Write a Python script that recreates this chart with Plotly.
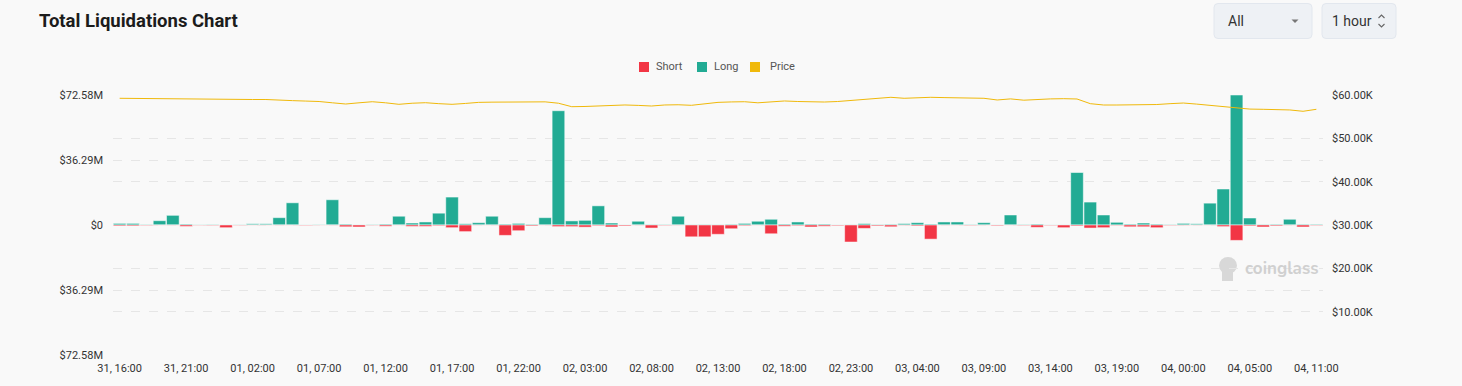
import pandas as pd
import plotly.graph_objects as go

# ---------------- data ----------------
times = list(pd.date_range("2024-07-31 16:00", periods=90, freq="h")) + [pd.Timestamp("2024-08-04 11:00")]
categories = [t.strftime("%d, %H:%M") for t in times]

long_m = [0.9, 0.9, 0.3, 2.4, 5.4, 0.5, 0.2, 0.3, 0.1, 0.2,
          0.7, 0.7, 4.1, 12.4, 0.1, 0.3, 14.1, 0.5, 0.1, 0.3,
          0.5, 4.9, 1.1, 1.7, 6.6, 15.6, 0.7, 1.3, 4.9, 0.5,
          0.9, 0.4, 4.1, 63.8, 2.3, 2.6, 10.7, 1.1, 0.1, 2.1,
          0.3, 0.3, 4.9, 0.2, 0.3, 0.2, 0.4, 0.9, 2.1, 3.2,
          0.5, 1.7, 0.5, 0.5, 0.1, 0.2, 0.8, 0.3, 0.4, 0.8,
          1.3, 0.5, 1.7, 1.7, 0.3, 1.3, 0.1, 5.6, 0.3, 0.5,
          0.1, 0.1, 29.3, 12.8, 5.6, 1.5, 0.5, 1.1, 0.5, 0.3,
          0.9, 0.7, 12.2, 20.1, 72.58, 3.9, 0.3, 0.4, 3.2, 0.4,
          0.4]
short_m = [0.5, 0.5, 0.3, 0.1, 0.1, 0.8, 0.2, 0.3, 1.5, 0.2,
           0.1, 0.1, 0.1, 0.1, 0.3, 0.1, 0.1, 1.0, 1.1, 0.2,
           0.7, 0.1, 0.8, 0.8, 0.4, 1.5, 3.7, 0.1, 0.1, 5.8,
           3.2, 0.5, 0.1, 0.9, 0.9, 1.2, 0.4, 1.1, 0.5, 0.1,
           1.7, 0.3, 0.1, 6.6, 6.6, 5.2, 2.1, 0.4, 0.1, 4.9,
           0.7, 0.4, 1.1, 0.7, 0.4, 9.5, 1.9, 0.5, 1.0, 0.2,
           0.5, 7.9, 0.1, 0.1, 0.3, 0.1, 0.4, 0.1, 0.3, 1.3,
           0.3, 1.5, 0.5, 1.7, 1.5, 0.3, 1.0, 1.0, 1.5, 0.3,
           0.2, 0.1, 0.1, 0.9, 8.6, 0.5, 1.1, 0.5, 0.1, 1.1,
           0.3]
price_k = [59.24, 59.2, 59.15, 59.1, 59.1, 59.05, 59.05, 59.0, 58.96, 58.96,
           58.96, 58.96, 58.9, 58.7, 58.6, 58.5, 58.2, 57.92, 58.2, 58.45,
           58.2, 57.85, 58.1, 58.22, 58.0, 57.85, 58.05, 58.3, 58.35, 58.4,
           58.45, 58.45, 58.42, 58.1, 57.3, 57.35, 57.45, 57.55, 57.7, 57.6,
           57.46, 57.7, 57.75, 57.62, 58.0, 58.3, 58.4, 58.45, 58.2, 58.4,
           58.62, 58.5, 58.4, 58.38, 58.5, 58.75, 59.1, 59.3, 59.47, 59.24,
           59.35, 59.47, 59.4, 59.35, 59.3, 59.24, 58.85, 59.1, 58.8, 59.0,
           59.1, 59.15, 59.08, 58.0, 57.69, 57.69, 57.69, 57.69, 57.8, 58.0,
           58.15, 57.9, 57.6, 57.35, 57.1, 56.75, 56.7, 56.6, 56.55, 56.24,
           56.7]

left_tick_vals = [-72.58, -36.29, 0, 36.29, 72.58]
left_tick_text = ["$72.58M", "$36.29M", "$0", "$36.29M", "$72.58M"]
right_tick_vals = [10, 20, 30, 40, 50, 60]
right_tick_text = ["$10.00K", "$20.00K", "$30.00K", "$40.00K", "$50.00K", "$60.00K"]
x_tick_idx = list(range(0, 90, 5)) + [90]

# ---------------- styling ----------------
W, H = 1462, 386
L, R, T, B = 113, 1323, 95, 355
BG = "#f9f9f9"
RED = "#f23645"
TEAL = "#22ab94"
GOLD = "#f0b90b"
GRID = "#e6e6e6"
FONT = "Roboto"


def xp(px):
    return (px - L) / (R - L)


def yp(py):
    return (B - py) / (B - T)


def rrect(x0, y0, x1, y1, r):
    pts = [
        f"M {xp(x0 + r)},{yp(y0)}",
        f"L {xp(x1 - r)},{yp(y0)}",
        f"Q {xp(x1)},{yp(y0)} {xp(x1)},{yp(y0 + r)}",
        f"L {xp(x1)},{yp(y1 - r)}",
        f"Q {xp(x1)},{yp(y1)} {xp(x1 - r)},{yp(y1)}",
        f"L {xp(x0 + r)},{yp(y1)}",
        f"Q {xp(x0)},{yp(y1)} {xp(x0)},{yp(y1 - r)}",
        f"L {xp(x0)},{yp(y0 + r)}",
        f"Q {xp(x0)},{yp(y0)} {xp(x0 + r)},{yp(y0)}",
        "Z",
    ]
    return " ".join(pts)


xs = list(range(len(categories)))

fig = go.Figure()
fig.add_trace(go.Bar(
    x=xs, y=long_m, name="Long", marker=dict(color=TEAL, line=dict(color="rgba(255,255,255,0.5)", width=1)),
    yaxis="y", showlegend=False, hoverinfo="skip",
))
fig.add_trace(go.Bar(
    x=xs, y=[-v for v in short_m], name="Short", marker=dict(color=RED, line=dict(color="rgba(255,255,255,0.5)", width=1)),
    yaxis="y", showlegend=False, hoverinfo="skip",
))
fig.add_trace(go.Scatter(
    x=xs, y=price_k, name="Price", mode="lines", line=dict(color=GOLD, width=1),
    yaxis="y2", showlegend=False, hoverinfo="skip",
))

shapes = []
annotations = []

# title
annotations.append(dict(x=xp(37), y=yp(21), xref="paper", yref="paper", xanchor="left", yanchor="middle",
                        text="Total Liquidations Chart", showarrow=False,
                        font=dict(family=FONT, size=18.5, color="#1c1c1c", weight=700)))

# dropdown boxes
shapes.append(dict(type="path", xref="paper", yref="paper", path=rrect(1214, 3.5, 1312, 38.5, 4),
                   fillcolor="#eef1f5", line=dict(color="#e2e7ee", width=1), layer="above"))
shapes.append(dict(type="path", xref="paper", yref="paper", path=rrect(1322, 3.5, 1396, 38.5, 4),
                   fillcolor="#eef1f5", line=dict(color="#e2e7ee", width=1), layer="above"))
annotations.append(dict(x=xp(1226), y=yp(21), xref="paper", yref="paper", xanchor="left", yanchor="middle",
                        text="All", showarrow=False, font=dict(family=FONT, size=14, color="#333333")))
shapes.append(dict(type="path", xref="paper", yref="paper",
                   path=f"M {xp(1291.5)},{yp(19.5)} L {xp(1298.5)},{yp(19.5)} L {xp(1295)},{yp(23)} Z",
                   fillcolor="#777777", line=dict(width=0), layer="above"))
annotations.append(dict(x=xp(1330), y=yp(21), xref="paper", yref="paper", xanchor="left", yanchor="middle",
                        text="1 hour", showarrow=False, font=dict(family=FONT, size=14, color="#333333")))
shapes.append(dict(type="path", xref="paper", yref="paper",
                   path=f"M {xp(1378.5)},{yp(18)} L {xp(1381.5)},{yp(15)} L {xp(1384.5)},{yp(18)}",
                   line=dict(color="#666666", width=1.1), layer="above"))
shapes.append(dict(type="path", xref="paper", yref="paper",
                   path=f"M {xp(1378.5)},{yp(24)} L {xp(1381.5)},{yp(27)} L {xp(1384.5)},{yp(24)}",
                   line=dict(color="#666666", width=1.1), layer="above"))

# custom legend
legend_items = [("Short", RED, 639), ("Long", TEAL, 697), ("Price", GOLD, 750)]
for name, col, px0 in legend_items:
    shapes.append(dict(type="rect", xref="paper", yref="paper",
                       x0=xp(px0), x1=xp(px0 + 10), y0=yp(62), y1=yp(72),
                       fillcolor=col, line=dict(width=0), layer="above"))
    tx = px0 + 15 if name != "Price" else px0 + 18
    annotations.append(dict(x=xp(tx), y=yp(67), xref="paper", yref="paper", xanchor="left", yanchor="middle",
                            text=name, showarrow=False, font=dict(family=FONT, size=11, color="#555555")))

# watermark
shapes.append(dict(type="circle", xref="paper", yref="paper", x0=xp(1219), x1=xp(1237), y0=yp(257), y1=yp(274),
                   fillcolor="#d8d8d8", line=dict(width=0), layer="below"))
shapes.append(dict(type="rect", xref="paper", yref="paper", x0=xp(1222), x1=xp(1233), y0=yp(270), y1=yp(281),
                   fillcolor="#d8d8d8", line=dict(width=0), layer="below"))
annotations.append(dict(x=xp(1243), y=yp(268), xref="paper", yref="paper", xanchor="left", yanchor="middle",
                        text="coinglass", showarrow=False,
                        font=dict(family="Nunito, Open Sans, Roboto", size=17, color="#d0d0d0", weight=700)))

fig.update_layout(
    width=W, height=H,
    margin=dict(l=L, r=W - R, t=T, b=H - B, pad=0),
    paper_bgcolor=BG, plot_bgcolor=BG,
    barmode="relative", bargap=0.05,
    showlegend=False,
    font=dict(family=FONT, size=11, color="#333333"),
    xaxis=dict(
        range=[-0.5, len(categories) - 0.5], tickmode="array", tickvals=x_tick_idx,
        ticktext=[categories[i] for i in x_tick_idx], showgrid=False, zeroline=False, showline=False,
        ticks="", ticklabelstandoff=5, tickfont=dict(family=FONT, size=11, color="#333333"),
    ),
    yaxis=dict(
        range=[-72.58, 72.58], tickmode="array", tickvals=left_tick_vals, ticktext=left_tick_text,
        showgrid=True, gridcolor=GRID, griddash="dash", gridwidth=1, zeroline=False, showline=False,
        ticks="", ticklabelstandoff=9, tickfont=dict(family=FONT, size=11, color="#333333"),
    ),
    yaxis2=dict(
        range=[0, 60], overlaying="y", side="right", tickmode="array", tickvals=right_tick_vals,
        ticktext=right_tick_text, showgrid=True, gridcolor=GRID, griddash="dash", gridwidth=1,
        zeroline=False, showline=False, ticks="", ticklabelstandoff=8,
        tickfont=dict(family=FONT, size=11, color="#333333"),
    ),
    shapes=shapes,
    annotations=annotations,
)

fig.write_html(
    "out.html",
    config={"displayModeBar": False},
    post_script="document.body.style.margin='0';document.body.style.padding='0';"
                "document.body.style.background='#f9f9f9';document.body.style.overflow='hidden';",
)
